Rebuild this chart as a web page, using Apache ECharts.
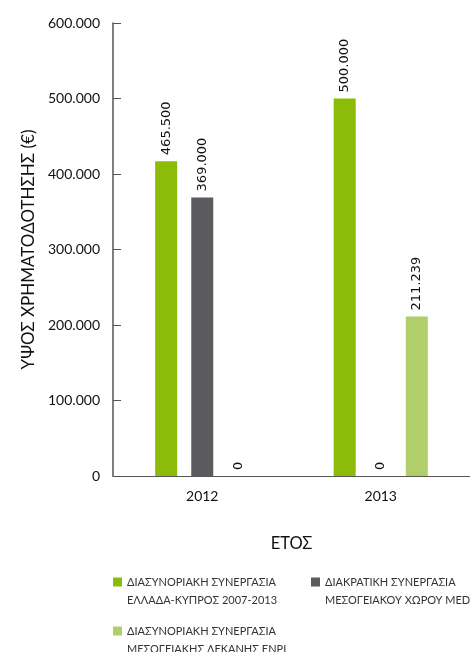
<!DOCTYPE html>
<html><head><meta charset="utf-8">
<script src="https://cdn.jsdelivr.net/npm/echarts@6/dist/echarts.min.js"></script>
<style>html,body{margin:0;padding:0;background:#fff}#c{width:470px;height:652px}</style>
</head><body><div id="c"></div>
<script>
const categories = ['2012', '2013'];
const seriesNames = [
  'ΔΙΑΣΥΝΟΡΙΑΚΗ ΣΥΝΕΡΓΑΣΙΑ\nΕΛΛΑΔΑ-ΚΥΠΡΟΣ 2007-2013',
  'ΔΙΑΚΡΑΤΙΚΗ ΣΥΝΕΡΓΑΣΙΑ\nΜΕΣΟΓΕΙΑΚΟΥ ΧΩΡΟΥ MED',
  'ΔΙΑΣΥΝΟΡΙΑΚΗ ΣΥΝΕΡΓΑΣΙΑ\nΜΕΣΟΓΕΙΑΚΗΣ ΛΕΚΑΝΗΣ ENPI'
];
const greekCyprus = [417000, 500000];
const med = [369000, 0];
const enpi = [0, 211239];
const greekCyprusLabels = ['465.500', '500.000'];
const medLabels = ['369.000', '0'];
const enpiLabels = ['0', '211.239'];
const colors = ['#8cbb09', '#5b5a5f', '#b0cf6a'];

const chart = echarts.init(document.getElementById('c'), null, {renderer: 'canvas'});
function fmt(v){ return String(v).replace(/\B(?=(\d{3})+(?!\d))/g, '.'); }
function mk(name, data, labels, color){
  return {
    name: name, type: 'bar', data: data, barWidth: 22, barGap: '64%',
    itemStyle: {color: color},
    label: {show: true, position: 'top', rotate: 90, align: 'left', verticalAlign: 'middle', distance: 6,
      fontFamily: 'DejaVu Sans', fontSize: 13, color: '#111',
      formatter: p => labels[p.dataIndex]}
  };
}
const legendBase = {icon: 'rect', itemWidth: 9, itemHeight: 9, itemGap: 6,
  formatter: n => '\n' + n,
  textStyle: {fontFamily: 'Lato', fontSize: 11, color: '#333', lineHeight: 18}, selectedMode: false};
chart.setOption({
  animation: false,
  grid: {left: 113, top: 23, width: 360, height: 453},
  legend: [
    Object.assign({}, legendBase, {data: [seriesNames[0]], left: 108, top: 550}),
    Object.assign({}, legendBase, {data: [seriesNames[1]], left: 306, top: 550}),
    Object.assign({}, legendBase, {data: [seriesNames[2]], left: 108, top: 599})
  ],
  xAxis: {
    type: 'category', data: categories,
    name: 'ΕΤΟΣ', nameLocation: 'middle', nameGap: 59,
    nameTextStyle: {fontFamily: 'Lato', fontSize: 16.5, color: '#111'},
    axisLine: {lineStyle: {color: '#555', width: 1}},
    axisTick: {inside: true, length: 10, lineStyle: {color: '#555'}},
    axisLabel: {fontFamily: 'Lato', fontSize: 14, color: '#111', margin: 13}
  },
  yAxis: {
    type: 'value', min: 0, max: 600000, interval: 100000,
    name: 'ΥΨΟΣ ΧΡΗΜΑΤΟΔΟΤΗΣΗΣ (€)', nameLocation: 'middle', nameGap: 76, nameRotate: 90,
    nameTextStyle: {fontFamily: 'Lato', fontSize: 17, color: '#111'},
    axisLine: {show: true, lineStyle: {color: '#555', width: 1.5}},
    axisTick: {show: true, inside: true, length: 8, lineStyle: {color: '#555'}},
    splitLine: {show: false},
    axisLabel: {fontFamily: 'Lato', fontSize: 14, color: '#111', margin: 13, formatter: v => fmt(v)}
  },
  series: [
    mk(seriesNames[0], greekCyprus, greekCyprusLabels, colors[0]),
    mk(seriesNames[1], med, medLabels, colors[1]),
    mk(seriesNames[2], enpi, enpiLabels, colors[2])
  ]
});
</script></body></html>
